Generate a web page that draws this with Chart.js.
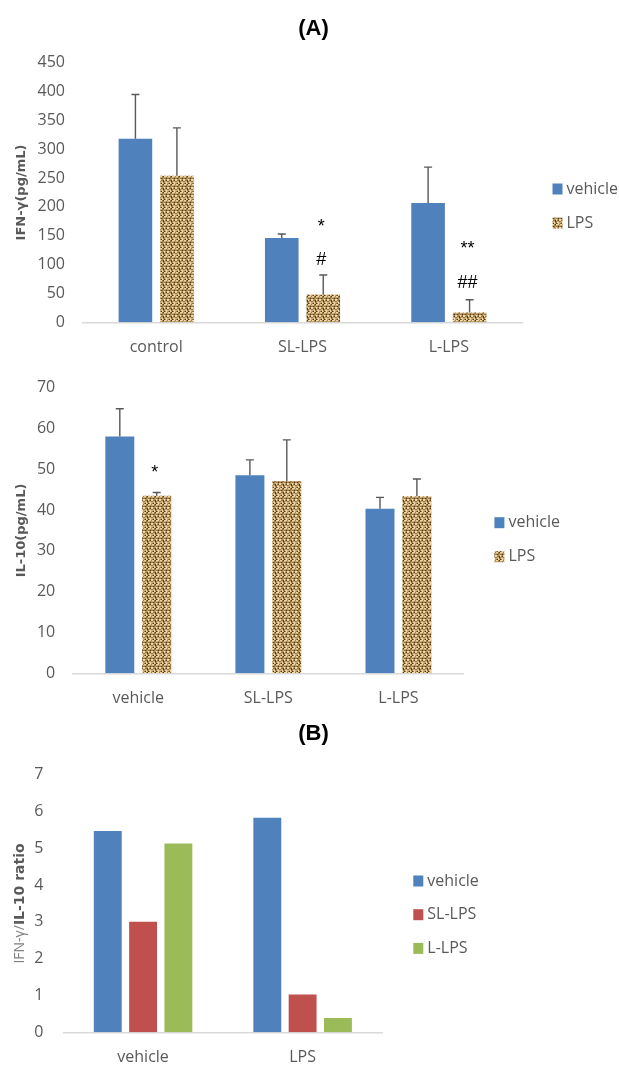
<!DOCTYPE html>
<html>
<head>
<meta charset="utf-8">
<script src="https://cdn.jsdelivr.net/npm/chart.js@4.4.1/dist/chart.umd.min.js"></script>
<style>
body { margin: 0; background: #fff; }
#page { position: relative; width: 619px; height: 1066px; overflow: hidden; background: #fff; }
canvas { position: absolute; left: 0; }
.painel { position: absolute; left: 4px; width: 619px; text-align: center; font: bold 22px "Liberation Sans", Arial, sans-serif; color: #000; }
</style>
</head>
<body>
<div id="page">
    <canvas id="graficoIFN" width="619" height="360" style="top:0px"></canvas>
    <canvas id="graficoIL10" width="619" height="350" style="top:360px"></canvas>
    <canvas id="graficoRazao" width="619" height="321" style="top:745px"></canvas>
    <div class="painel" style="top:15px">(A)</div>
    <div class="painel" style="top:720px">(B)</div>
</div>
<script>
// dados
const grupos = ['control', 'SL-LPS', 'L-LPS'];
const ifnVehicle = [318, 146, 207];
const ifnVehicleErr = [77, 7, 62];
const ifnLPS = [254, 48, 17];
const ifnLPSErr = [83, 34, 22];
const ifnStars = ['', '*', '**'];
const ifnStarAt = [null, 165, 127];
const ifnHashes = ['', '#', '##'];
const ifnHashAt = [null, 108, 68];

const gruposIL10 = ['vehicle', 'SL-LPS', 'L-LPS'];
const il10Vehicle = [58.0, 48.5, 40.3];
const il10VehicleErr = [6.8, 3.8, 2.8];
const il10LPS = [43.5, 47.1, 43.4];
const il10LPSErr = [0.8, 10.1, 4.2];
const il10Stars = ['*', '', ''];
const il10StarAt = [49.0, null, null];

const gruposRazao = ['vehicle', 'LPS'];
const razaoVehicle = [5.47, 5.83];
const razaoSL = [3.0, 1.03];
const razaoL = [5.13, 0.39];

const AZUL = '#4F81BD';
const VERMELHO = '#C0504D';
const VERDE = '#9BBB59';
const CINZA = '#595959';

Chart.defaults.font.family = '"Open Sans", "Noto Sans", sans-serif';
Chart.defaults.color = CINZA;

// textura do LPS (trama bege/marrom)
function criarTextura() {
    const mapa = [
        'llmdlllm',
        'bbmmbbmb',
        'mdmbmmdm',
        'lbmblbml',
        'lmmdlmdl',
        'mbbdmbbm',
        'bblmmllb',
        'mdlbdmlb'
    ];
    const cores = { d: '#553c20', m: '#9c7a47', l: '#ecd8a5', b: '#c9a871' };
    const c = document.createElement('canvas');
    c.width = 8; c.height = 8;
    const g = c.getContext('2d');
    mapa.forEach((linha, y) => {
        for (let x = 0; x < 8; x++) {
            g.fillStyle = cores[linha[x]];
            g.fillRect(x, y, 1, 1);
        }
    });
    return g.createPattern(c, 'repeat');
}
const textura = criarTextura();

// barras de erro + marcas de significancia
const barrasErro = {
    id: 'barrasErro',
    afterDatasetsDraw(chart) {
        const ctx = chart.ctx;
        const y = chart.scales.y;
        chart.data.datasets.forEach((ds, i) => {
            const meta = chart.getDatasetMeta(i);
            meta.data.forEach((bar, j) => {
                if (ds.erros) {
                    const topo = y.getPixelForValue(ds.data[j] + ds.erros[j]);
                    ctx.save();
                    ctx.strokeStyle = CINZA;
                    ctx.lineWidth = 1.4;
                    ctx.beginPath();
                    ctx.moveTo(bar.x, bar.y);
                    ctx.lineTo(bar.x, topo);
                    ctx.moveTo(bar.x - 4, topo);
                    ctx.lineTo(bar.x + 4, topo);
                    ctx.stroke();
                    ctx.restore();
                }
                (ds.marcas || []).forEach(m => {
                    if (!m.texto[j]) return;
                    ctx.save();
                    ctx.fillStyle = '#000';
                    ctx.font = '18px "Liberation Sans", Arial, sans-serif';
                    ctx.textAlign = 'center';
                    ctx.textBaseline = 'middle';
                    ctx.fillText(m.texto[j], bar.x - 2, y.getPixelForValue(m.em[j]));
                    ctx.restore();
                });
            });
        });
    }
};

// legenda lateral
const legendaLateral = {
    id: 'legendaLateral',
    afterDraw(chart, args, opts) {
        const ctx = chart.ctx;
        chart.data.datasets.forEach((ds, i) => {
            const y = opts.y + i * opts.passo;
            ctx.save();
            ctx.fillStyle = ds.backgroundColor;
            ctx.fillRect(opts.x, y - 5.5, 10, 11);
            ctx.fillStyle = CINZA;
            ctx.font = '16px "Open Sans", sans-serif';
            ctx.textAlign = 'left';
            ctx.textBaseline = 'middle';
            ctx.fillText(ds.label, opts.x + 14, y);
            ctx.restore();
        });
    }
};

// titulo do eixo y com dois pesos (grafico B)
const tituloMisto = {
    id: 'tituloMisto',
    afterDraw(chart, args, opts) {
        if (!opts.partes) return;
        const ctx = chart.ctx;
        const area = chart.chartArea;
        ctx.save();
        ctx.translate(opts.x, (area.top + area.bottom) / 2);
        ctx.rotate(-Math.PI / 2);
        ctx.textBaseline = 'middle';
        ctx.textAlign = 'left';
        let total = 0;
        opts.partes.forEach(p => { ctx.font = p.font; total += ctx.measureText(p.texto).width; });
        let x = -total / 2;
        opts.partes.forEach(p => {
            ctx.font = p.font;
            ctx.fillStyle = p.cor;
            ctx.fillText(p.texto, x, 0);
            x += ctx.measureText(p.texto).width;
        });
        ctx.restore();
    }
};

function eixos(maximo, passo, larguraY, alturaX, padY, tituloY) {
    return {
        x: {
            grid: { display: false, drawTicks: false },
            border: { color: '#d9d9d9', width: 1.5 },
            ticks: { padding: 16, font: { size: 16 }, color: CINZA },
            afterFit: s => { s.height = alturaX; }
        },
        y: {
            min: 0,
            max: maximo,
            grid: { display: false, drawTicks: false },
            border: { display: false },
            ticks: { stepSize: passo, padding: padY, font: { size: 16 }, color: CINZA },
            title: tituloY ? {
                display: true,
                text: tituloY,
                font: { size: 13, weight: 'bold', family: '"DejaVu Sans", sans-serif' },
                color: CINZA,
                padding: { top: 14, bottom: 0 }
            } : { display: false },
            afterFit: s => { s.width = larguraY; }
        }
    };
}

// (A) IFN-gamma
new Chart(document.getElementById('graficoIFN'), {
    type: 'bar',
    data: {
        labels: grupos,
        datasets: [{
            label: 'vehicle',
            data: ifnVehicle,
            erros: ifnVehicleErr,
            backgroundColor: AZUL
        }, {
            label: 'LPS',
            data: ifnLPS,
            erros: ifnLPSErr,
            backgroundColor: textura,
            marcas: [{ texto: ifnStars, em: ifnStarAt }, { texto: ifnHashes, em: ifnHashAt }]
        }]
    },
    options: {
        responsive: false,
        animation: false,
        categoryPercentage: 0.567,
        barPercentage: 0.81,
        layout: { padding: { top: 62.7, right: 97, left: 0, bottom: 0 } },
        scales: eixos(450, 50, 83, 37.7, 18, 'IFN-γ(pg/mL)'),
        plugins: {
            legend: { display: false },
            tooltip: { enabled: false },
            legendaLateral: { x: 552.5, y: 189, passo: 34 }
        }
    },
    plugins: [barrasErro, legendaLateral]
});

// (A) IL-10
new Chart(document.getElementById('graficoIL10'), {
    type: 'bar',
    data: {
        labels: gruposIL10,
        datasets: [{
            label: 'vehicle',
            data: il10Vehicle,
            erros: il10VehicleErr,
            backgroundColor: AZUL
        }, {
            label: 'LPS',
            data: il10LPS,
            erros: il10LPSErr,
            backgroundColor: textura,
            marcas: [{ texto: il10Stars, em: il10StarAt }]
        }]
    },
    options: {
        responsive: false,
        animation: false,
        categoryPercentage: 0.567,
        barPercentage: 0.786,
        layout: { padding: { top: 19, right: 155.5, left: 0, bottom: 0 } },
        scales: eixos(70, 10, 73.2, 36.7, 18, 'IL-10(pg/mL)'),
        plugins: {
            legend: { display: false },
            tooltip: { enabled: false },
            legendaLateral: { x: 494.4, y: 162.7, passo: 34 }
        }
    },
    plugins: [barrasErro, legendaLateral]
});

// (B) razao IFN-gamma / IL-10
new Chart(document.getElementById('graficoRazao'), {
    type: 'bar',
    data: {
        labels: gruposRazao,
        datasets: [{
            label: 'vehicle',
            data: razaoVehicle,
            backgroundColor: AZUL
        }, {
            label: 'SL-LPS',
            data: razaoSL,
            backgroundColor: VERMELHO
        }, {
            label: 'L-LPS',
            data: razaoL,
            backgroundColor: VERDE
        }]
    },
    options: {
        responsive: false,
        animation: false,
        categoryPercentage: 0.664,
        barPercentage: 0.79,
        layout: { padding: { top: 25, right: 236.6, left: 0, bottom: 0 } },
        scales: eixos(7, 1, 63.3, 33.7, 20, null),
        plugins: {
            legend: { display: false },
            tooltip: { enabled: false },
            legendaLateral: { x: 413.3, y: 136, passo: 33.7 },
            tituloMisto: {
                x: 20,
                partes: [
                    { texto: 'IFN-γ/', font: '14px "Open Sans", sans-serif', cor: '#7f7f7f' },
                    { texto: 'IL-10 ratio', font: 'bold 14px "DejaVu Sans", sans-serif', cor: CINZA }
                ]
            }
        }
    },
    plugins: [legendaLateral, tituloMisto]
});
</script>
</body>
</html>
